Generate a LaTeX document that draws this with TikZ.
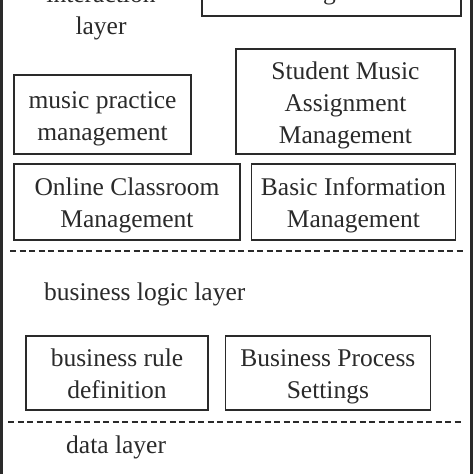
\documentclass[tikz,border=0pt]{standalone}
\usepackage{fontspec}
\setmainfont{Liberation Serif}
\usetikzlibrary{positioning}
\definecolor{ink}{HTML}{2A2A2A}
\newcommand{\topstrut}{\rule{0pt}{26.5pt}}
\newcommand{\botstrut}{\rule[-7pt]{0pt}{7pt}}
\begin{document}
\begin{tikzpicture}[x=1pt,y=-1pt,
    mbox/.style={draw=ink, line width=1.4pt, align=center, inner sep=0pt, text=ink, font=\fontsize{25.5}{32}\selectfont},
    lbl/.style={inner sep=0pt, text=ink, font=\fontsize{25.5}{32}\selectfont},
    sep/.style={draw=ink, line width=1.3pt, dash pattern=on 6pt off 3.5pt}]
    \clip (0,0) rectangle (474,474);

    % interaction layer
    \node[mbox, minimum width=259pt, minimum height=52pt] (topbox) at (331.5,-10) {\topstrut Management\botstrut};
    \node[lbl, anchor=south, align=center] (interlbl) at (101,40) {interaction\\layer};
    \node[mbox, minimum width=177pt, minimum height=79pt] (practice) at (102.5,114.5) {\topstrut music practice\\management\botstrut};
    \node[mbox, minimum width=219pt, minimum height=105pt] (assign) at (345.5,101.5) {\topstrut Student Music\\Assignment\\Management\botstrut};
    \node[mbox, minimum width=226pt, minimum height=76pt] (classroom) at (127,202) {\topstrut Online Classroom\\Management\botstrut};
    \node[mbox, minimum width=204pt, minimum height=76pt, right=10pt of classroom] (basic) {\topstrut Basic Information\\Management\botstrut};

    \draw[sep] (10,251) -- (465,251);

    % business logic layer
    \node[lbl, anchor=base west] (logiclbl) at (44,300) {business logic layer};
    \node[mbox, minimum width=182pt, minimum height=74pt] (rule) at (117,373) {\topstrut business rule\\definition\botstrut};
    \node[mbox, minimum width=205pt, minimum height=74pt, right=16pt of rule] (process) {\topstrut Business Process\\Settings\botstrut};

    \draw[sep] (8,422) -- (463,422);

    % data layer
    \node[lbl, anchor=base west] (datalbl) at (66,453) {data layer};

    % frame
    \draw[draw=ink, line width=2.6pt] (1.3,-10) -- (1.3,484) (471.7,-10) -- (471.7,484);
\end{tikzpicture}
\end{document}
